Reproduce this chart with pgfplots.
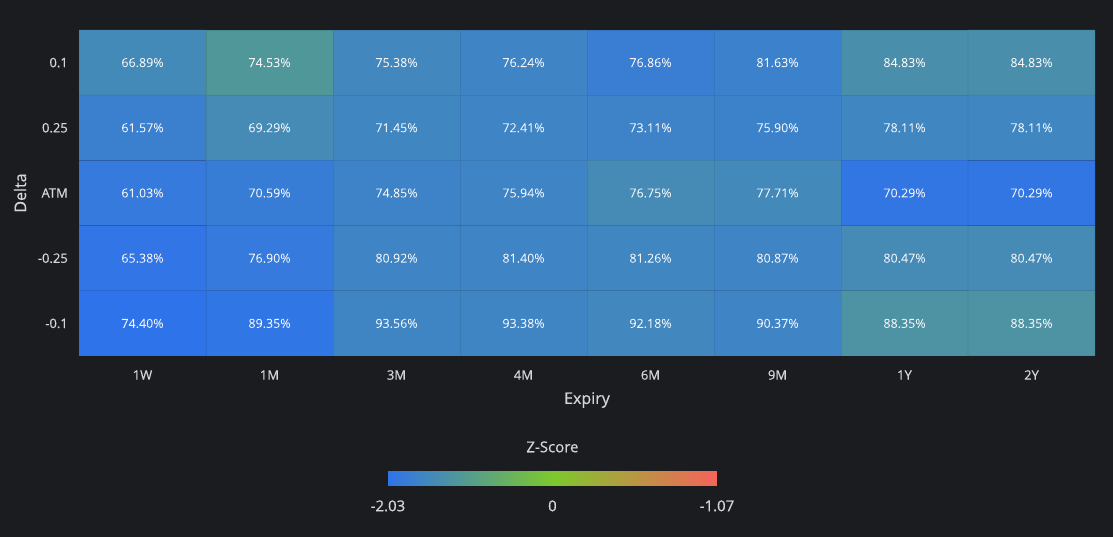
\documentclass[border=0pt]{standalone}
\usepackage{pgfplots}
\usepackage{pgfplotstable}
\pgfplotsset{compat=1.18}
\usepackage{fontspec}
\setmainfont{Open Sans}
\newfontfamily\medium[FakeBold=0.45]{Open Sans}

\definecolor{bg}{RGB}{27,28,32}
\definecolor{ticktext}{RGB}{214,214,216}
\definecolor{celltext}{RGB}{242,244,248}

% x = expiry index, y = delta index, z = z-score (colour), lbl = implied vol in %
\pgfplotstableread{
x y z lbl
0 0 -1.48 66.89
1 0 -1.16 74.53
2 0 -1.54 75.38
3 0 -1.62 76.24
4 0 -1.76 76.86
5 0 -1.70 81.63
6 0 -1.36 84.83
7 0 -1.36 84.83
0 1 -1.73 61.57
1 1 -1.46 69.29
2 1 -1.58 71.45
3 1 -1.62 72.41
4 1 -1.64 73.11
5 1 -1.68 75.90
6 1 -1.58 78.11
7 1 -1.58 78.11
0 2 -1.87 61.03
1 2 -1.79 70.59
2 2 -1.64 74.85
3 2 -1.62 75.94
4 2 -1.46 76.75
5 2 -1.50 77.71
6 2 -1.95 70.29
7 2 -1.95 70.29
0 3 -1.99 65.38
1 3 -1.87 76.90
2 3 -1.62 80.92
3 3 -1.62 81.40
4 3 -1.58 81.26
5 3 -1.62 80.87
6 3 -1.46 80.47
7 3 -1.46 80.47
0 4 -2.03 74.40
1 4 -1.97 89.35
2 4 -1.60 93.56
3 4 -1.60 93.38
4 4 -1.54 92.18
5 4 -1.62 90.37
6 4 -1.26 88.35
7 4 -1.26 88.35
}\volsurface

\begin{document}
\begin{tikzpicture}[x=1pt,y=1pt]
\fill[bg] (0,0) rectangle (1113,537);
\begin{axis}[
  at={(79pt,181pt)}, anchor=south west,
  scale only axis, width=1016pt, height=326pt,
  xmin=-0.5, xmax=7.5, ymin=-0.5, ymax=4.5, y dir=reverse,
  xtick={0,...,7}, xticklabels={1W,1M,3M,4M,6M,9M,1Y,2Y},
  ytick={0,...,4}, yticklabels={0.1,0.25,ATM,-0.25,-0.1},
  major tick length=0pt,
  axis line style={draw=none},
  tick label style={font=\medium\fontsize{13}{15}\selectfont, text=ticktext},
  xticklabel style={anchor=center, yshift=-19pt},
  yticklabel style={anchor=east, inner sep=0pt, xshift=-11pt},
  xlabel={Expiry}, ylabel={Delta},
  label style={font=\medium\fontsize{16}{18}\selectfont, text=ticktext},
  xlabel style={at={(axis description cs:0.5,0)}, anchor=center, yshift=-44pt},
  ylabel style={at={(axis description cs:-0.058,0.5)}, anchor=center},
  colormap={zscore}{rgb255=(47,115,235) rgb255=(125,200,45) rgb255=(245,100,90)},
  point meta min=-2.03, point meta max=2.03,
  colorbar horizontal,
  colorbar style={
    at={(0.466,-0.331)}, anchor=north,
    scale only axis, width=329pt, height=22pt,
    axis line style={draw=none},
    major tick length=0pt,
    xtick={-2.03,0,2.03}, xticklabels={-2.03,0,-1.07},
    xticklabel style={font=\medium\fontsize{15}{17}\selectfont, text=ticktext, anchor=center, yshift=-20pt},
    title={Z-Score},
    title style={font=\medium\fontsize{15}{17}\selectfont, text=ticktext, anchor=center, at={(0.5,1)}, yshift=11pt},
  },
]
\addplot[matrix plot*, mesh/cols=8, mesh/rows=5, point meta=explicit,
  draw=black, draw opacity=0.08, line width=0.6pt,
  visualization depends on={\thisrow{lbl} \as \lbl},
  nodes near coords={\pgfmathprintnumber[fixed, fixed zerofill, precision=2, assume math mode=true]{\lbl}\%},
  every node near coord/.append style={anchor=center, font=\medium\fontsize{12.5}{14}\selectfont, text=celltext}]
  table[x=x, y=y, meta=z]{\volsurface};
\end{axis}
\end{tikzpicture}
\end{document}
